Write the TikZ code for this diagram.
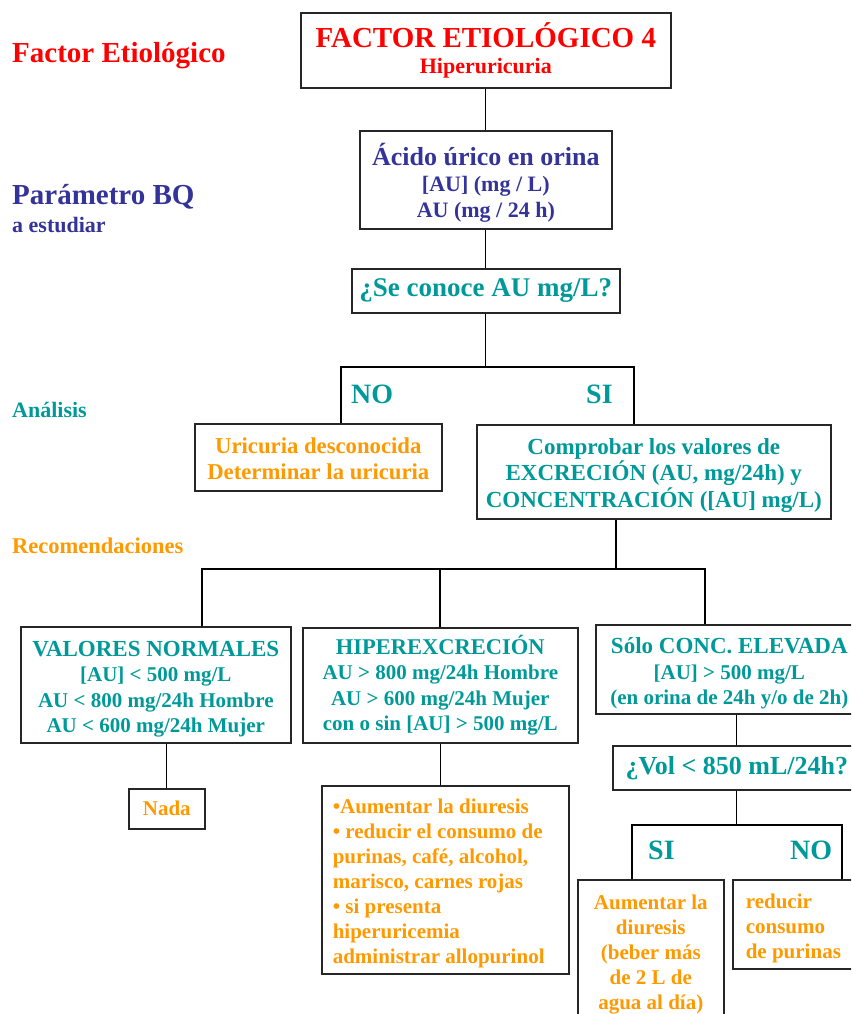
\documentclass[tikz,border=0pt]{standalone}
\usepackage{xcolor}
\usepackage{fontspec}
\setmainfont{Liberation Serif}
\usepackage{tikz}

\definecolor{etiored}{HTML}{FF0000}
\definecolor{bqblue}{HTML}{333399}
\definecolor{anateal}{HTML}{009999}
\definecolor{recorange}{HTML}{FF9900}

\begin{document}
\begin{tikzpicture}[
    x=1pt, y=-1pt,
    box/.style={draw=black!85, line width=1.6pt, anchor=north west, align=center,
        inner sep=0pt, font=\bfseries\fontsize{22}{26}\selectfont},
    detail/.style={font=\bfseries\fontsize{21}{25.5}\selectfont},
    tag/.style={anchor=base west, inner sep=0pt, font=\bfseries\fontsize{22}{26}\selectfont},
    link/.style={line width=1.3pt}
]
\useasboundingbox (0,0) rectangle (851,1014);
\clip (0,0) rectangle (851,1014);

% side labels
\node[tag, text=etiored, font=\bfseries\fontsize{29}{32}\selectfont] (lblFactor) at (12,63) {Factor Etiológico};
\node[tag, text=bqblue, font=\bfseries\fontsize{29}{32}\selectfont] (lblParam) at (12,204) {Parámetro BQ};
\node[tag, text=bqblue] (lblEstudiar) at (12,232) {a estudiar};
\node[tag, text=anateal] (lblAnalisis) at (12,417) {Análisis};
\node[tag, text=recorange, font=\bfseries\fontsize{22.5}{26}\selectfont] (lblRecom) at (12,553) {Recomendaciones};

% upper chain
\node[box, text=etiored, minimum width=370pt, minimum height=75pt] (factor) at (300,12)
    {{\fontsize{29}{30}\selectfont FACTOR ETIOLÓGICO 4}\\ Hiperuricuria};
\node[box, text=bqblue, minimum width=252pt, minimum height=98pt] (acido) at (359,130)
    {\rule{0pt}{28pt}{\fontsize{26}{28}\selectfont Ácido úrico en orina}\\ {[AU] (mg / L)}\\ AU (mg / 24 h)};
\node[box, text=anateal, minimum width=268pt, minimum height=44pt,
    font=\bfseries\fontsize{27}{30}\selectfont] (conoce) at (351,268) {¿Se conoce AU mg/L?};

\node[tag, text=anateal, font=\bfseries\fontsize{28}{30}\selectfont] (resNo) at (351,403) {NO};
\node[tag, text=anateal, font=\bfseries\fontsize{28}{30}\selectfont] (resSi) at (586,403) {SI};

\node[box, text=recorange, minimum width=247pt, minimum height=67pt,
    font=\bfseries\fontsize{22.7}{26}\selectfont] (uric) at (194,423)
    {\rule{0pt}{19pt}Uricuria desconocida\\ Determinar la uricuria};
\node[box, text=anateal, minimum width=354pt, minimum height=94pt,
    font=\bfseries\fontsize{23}{26.5}\selectfont] (comprobar) at (476,424)
    {\rule{0pt}{23pt}Comprobar los valores de\\ EXCRECIÓN (AU, mg/24h) y\\ CONCENTRACIÓN ([AU] mg/L)};

% three results
\node[box, detail, text=anateal, minimum width=270pt, minimum height=116pt] (normales) at (20,626)
    {\rule{0pt}{24pt}{\fontsize{23}{25.5}\selectfont VALORES NORMALES}\\ {[AU] < 500 mg/L}\\ AU < 800 mg/24h Hombre\\ AU < 600 mg/24h Mujer};
\node[box, detail, text=anateal, minimum width=275pt, minimum height=115pt] (hiper) at (302,627)
    {{\fontsize{22.5}{25.5}\selectfont HIPEREXCRECIÓN}\\ AU > 800 mg/24h Hombre\\ AU > 600 mg/24h Mujer\\ con o sin [AU] > 500 mg/L};
\node[box, detail, text=anateal, minimum width=267pt, minimum height=89pt] (solo) at (595,624)
    {\rule{0pt}{24pt}{\fontsize{23}{25.5}\selectfont Sólo CONC. ELEVADA}\\ {[AU] > 500 mg/L}\\ (en orina de 24h y/o de 2h)};

\node[box, detail, text=recorange, minimum width=76pt, minimum height=40pt] (nada) at (128,788) {Nada};
\node[box, detail, text=recorange, text width=225pt, align=flush left, inner xsep=11pt,
    minimum height=188pt, font=\bfseries\fontsize{21}{25}\selectfont] (medidas) at (321,785)
    {\rule{0pt}{22pt}•Aumentar la diuresis\\ • reducir el consumo de\\ purinas, café, alcohol,\\ marisco, carnes rojas\\ • si presenta\\ hiperuricemia\\ administrar allopurinol};
\node[box, text=anateal, minimum width=248pt, minimum height=44pt,
    font=\bfseries\fontsize{26}{28}\selectfont] (vol) at (612,745) {¿Vol < 850 mL/24h?};

\node[tag, text=anateal, font=\bfseries\fontsize{28}{30}\selectfont] (volSi) at (648,859) {SI};
\node[tag, text=anateal, font=\bfseries\fontsize{28}{30}\selectfont] (volNo) at (790,859) {NO};

\node[box, detail, text=recorange, minimum width=146pt, minimum height=150pt,
    font=\bfseries\fontsize{21}{25}\selectfont] (aumentar) at (577,879)
    {Aumentar la\\ diuresis\\ (beber más\\ de 2 L de\\ agua al día)};
\node[box, detail, text=recorange, text width=102pt, align=flush left, inner xsep=13pt,
    minimum height=89pt, font=\bfseries\fontsize{21}{25}\selectfont] (reducir) at (732,879)
    {\rule{0pt}{22pt}reducir\\ consumo\\ de purinas};

% connectors
\coordinate (ramaNo) at (341,367);
\coordinate (ramaSi) at (634,367);
\coordinate (recTop) at (616,569);
\coordinate (recA) at (202,569);
\coordinate (recB) at (440,569);
\coordinate (recC) at (705,569);
\coordinate (volA) at (632,825);
\coordinate (volB) at (842,825);

\draw[link] (factor.south) -- (acido.north);
\draw[link] (acido.south) -- (conoce.north);
\draw[link] (conoce.south) -- (conoce.south |- ramaNo);
\draw[link] (uric.north -| ramaNo) -- (ramaNo) -- (ramaSi) -- (ramaSi |- comprobar.north);

\draw[link] (comprobar.south -| recTop) -- (recTop);
\draw[link] (normales.north -| recA) -- (recA) -- (recC) -- (solo.north -| recC);
\draw[link] (recB) -- (hiper.north -| recB);

\draw[link] (nada.north) -- (nada.north |- normales.south);
\draw[link] (hiper.south) -- (hiper.south |- medidas.north);
\draw[link] (vol.north) -- (vol.north |- solo.south);
\draw[link] (vol.south) -- (vol.south |- volA);
\draw[link] (aumentar.north -| volA) -- (volA) -- (volB) -- (reducir.north -| volB);

\end{tikzpicture}
\end{document}
